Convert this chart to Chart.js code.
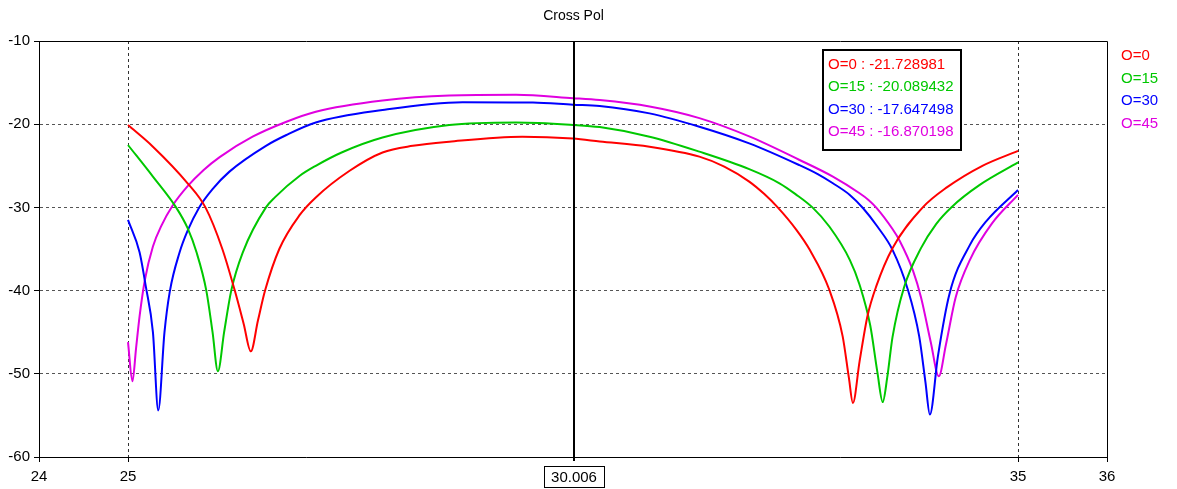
<!DOCTYPE html>
<html>
<head>
<meta charset="utf-8">
<script src="https://cdn.jsdelivr.net/npm/chart.js@4.4.1/dist/chart.umd.min.js"></script>
<style>
  html, body { margin: 0; padding: 0; background: #fff; }
  #wrap { width: 1177px; height: 489px; }
</style>
</head>
<body>
<div id="wrap"><canvas id="crossPolChart" width="1177" height="489"></canvas></div>
<script>
// series names and colours
const seriesNames = ['O=0', 'O=15', 'O=30', 'O=45'];
const seriesColors = ['#ff0000', '#00c800', '#0000ff', '#e000e0'];

// O=0
const freqO0 = [25.0, 25.28, 25.67, 25.87, 26.06, 26.2, 26.3, 26.38, 26.46, 26.54, 26.7, 26.93, 27.11, 27.49, 27.86, 28.2, 28.61, 29.43, 30.0, 30.3, 30.86, 31.42, 31.7, 31.98, 32.15, 32.3, 32.51, 32.66, 32.88, 33.03, 33.1, 33.145, 33.22, 33.31, 33.41, 33.59, 33.93, 34.2, 34.6, 35.0];
const cpO0 = [-20.1, -22.7, -27.1, -30.0, -35.0, -40.0, -44.0, -47.3, -43.6, -40.0, -35.0, -30.9, -28.8, -25.6, -23.4, -22.6, -22.1, -21.5, -21.73, -22.07, -22.7, -23.9, -25.1, -26.9, -28.4, -30.0, -32.7, -35.1, -39.9, -45.5, -50.5, -53.5, -48.5, -43.0, -39.4, -34.9, -30.0, -27.6, -25.0, -23.2];

// O=15
const freqO15 = [25.0, 25.28, 25.54, 25.67, 25.77, 25.88, 25.95, 26.01, 26.08, 26.16, 26.29, 26.55, 26.65, 26.93, 27.11, 27.4, 27.86, 28.61, 29.36, 30.0, 30.3, 30.86, 31.42, 31.98, 32.32, 32.5, 32.69, 32.88, 33.11, 33.22, 33.34, 33.42, 33.48, 33.53, 33.59, 33.72, 33.91, 34.08, 34.25, 34.57, 35.0];
const cpO15 = [-22.5, -26.3, -30.0, -32.5, -35.4, -40.0, -45.0, -49.7, -45.0, -40.0, -35.4, -30.0, -28.8, -26.2, -25.0, -23.4, -21.6, -20.1, -19.8, -20.09, -20.35, -21.5, -23.3, -25.4, -27.1, -28.4, -30.0, -32.3, -36.3, -39.3, -44.2, -49.8, -53.4, -50.5, -45.6, -39.6, -34.9, -32.0, -30.0, -27.3, -24.6];

// O=30
const freqO30 = [25.0, 25.13, 25.2, 25.28, 25.34, 25.41, 25.47, 25.58, 25.67, 25.8, 25.95, 26.14, 26.55, 26.78, 27.11, 27.86, 28.76, 29.55, 30.0, 30.3, 30.86, 31.42, 31.98, 32.54, 32.75, 32.92, 33.11, 33.26, 33.42, 33.59, 33.76, 33.89, 33.96, 34.01, 34.1, 34.23, 34.46, 34.64, 35.0];
const cpO30 = [-31.5, -35.4, -39.5, -45.0, -54.4, -45.0, -40.1, -35.4, -32.8, -30.0, -27.8, -25.7, -22.6, -21.3, -19.8, -18.3, -17.35, -17.4, -17.65, -17.8, -18.7, -20.3, -22.3, -24.9, -26.0, -27.1, -28.5, -30.1, -32.3, -35.1, -39.8, -45.5, -51.0, -54.9, -47.9, -40.4, -34.5, -31.7, -27.9];

// O=45
const freqO45 = [25.0, 25.05, 25.09, 25.13, 25.19, 25.28, 25.38, 25.5, 25.67, 25.85, 26.03, 26.4, 26.78, 27.11, 27.86, 28.61, 29.36, 30.0, 30.3, 30.86, 31.42, 31.98, 32.54, 32.92, 33.22, 33.32, 33.41, 33.59, 33.67, 33.82, 33.91, 34.02, 34.11, 34.19, 34.3, 34.46, 34.71, 35.0];
const cpO45 = [-46.2, -50.9, -47.0, -43.1, -38.7, -34.7, -32.1, -29.8, -27.45, -25.5, -23.95, -21.5, -19.7, -18.5, -17.16, -16.56, -16.47, -16.87, -17.1, -17.87, -19.27, -21.47, -24.27, -26.3, -28.3, -29.1, -30.05, -32.6, -34.0, -37.6, -40.8, -46.2, -50.3, -46.5, -40.8, -36.3, -31.9, -28.5];

// axis ticks and marker
const xTicks = [24, 25, 35, 36];
const xGridValues = [25, 35];
const cursorFreq = 30.006;
const cursorValues = [-21.728981, -20.089432, -17.647498, -16.870198];

const FONT = '"Liberation Sans", Arial, sans-serif';

const freqs = [freqO0, freqO15, freqO30, freqO45];
const values = [cpO0, cpO15, cpO30, cpO45];

const datasets = seriesNames.map((name, i) => ({
    label: name,
    data: freqs[i].map((f, k) => ({ x: f, y: values[i][k] })),
    borderColor: seriesColors[i],
    backgroundColor: seriesColors[i],
    borderWidth: 2,
    pointRadius: 0,
    fill: false,
    cubicInterpolationMode: 'monotone'
}));

// title, frame, cursor line and legends
const overlayPlugin = {
    id: 'overlay',
    afterDraw(chart) {
        const { ctx, chartArea: a, scales: { x } } = chart;
        ctx.save();

        // title
        ctx.fillStyle = '#000';
        ctx.font = '14px ' + FONT;
        ctx.textAlign = 'center';
        ctx.textBaseline = 'middle';
        ctx.fillText('Cross Pol', 573.5, 16);

        // top and right frame
        ctx.strokeStyle = '#000';
        ctx.lineWidth = 1;
        ctx.beginPath();
        ctx.moveTo(Math.round(a.left) + 0.5, Math.round(a.top) + 0.5);
        ctx.lineTo(Math.round(a.right) + 0.5, Math.round(a.top) + 0.5);
        ctx.lineTo(Math.round(a.right) + 0.5, Math.round(a.bottom) + 0.5);
        ctx.stroke();

        // cursor line
        const cx = Math.round(x.getPixelForValue(cursorFreq));
        ctx.lineWidth = 2;
        ctx.beginPath();
        ctx.moveTo(cx, a.top);
        ctx.lineTo(cx, a.bottom + 4);
        ctx.stroke();

        // cursor label
        const label = cursorFreq.toFixed(3);
        ctx.font = '15px ' + FONT;
        const w = ctx.measureText(label).width + 14;
        ctx.lineWidth = 1;
        ctx.fillStyle = '#fff';
        ctx.fillRect(cx - w / 2, 466, w, 22);
        ctx.strokeRect(Math.round(cx - w / 2) + 0.5, 466.5, Math.round(w), 21);
        ctx.fillStyle = '#000';
        ctx.fillText(label, cx, 477.5);

        // value box
        ctx.fillStyle = '#fff';
        ctx.fillRect(823, 50, 138, 100);
        ctx.lineWidth = 2;
        ctx.strokeStyle = '#000';
        ctx.strokeRect(823, 50, 138, 100);
        ctx.textAlign = 'left';
        seriesNames.forEach((name, i) => {
            ctx.fillStyle = seriesColors[i];
            ctx.fillText(name + ' : ' + cursorValues[i].toFixed(6), 828, 65 + i * 22.3);
        });

        // right legend
        seriesNames.forEach((name, i) => {
            ctx.fillStyle = seriesColors[i];
            ctx.fillText(name, 1121, 56 + i * 22.6);
        });

        ctx.restore();
    }
};

new Chart(document.getElementById('crossPolChart'), {
    type: 'line',
    data: { datasets },
    plugins: [overlayPlugin],
    options: {
        responsive: false,
        animation: false,
        events: [],
        layout: { padding: { top: 41, right: 70, left: 0, bottom: 0 } },
        plugins: {
            legend: { display: false },
            title: { display: false },
            tooltip: { enabled: false }
        },
        scales: {
            x: {
                type: 'linear',
                min: 24,
                max: 36,
                afterBuildTicks: s => { s.ticks = xTicks.map(v => ({ value: v })); },
                afterFit: s => { s.height = 32; },
                grid: {
                    color: c => (c.tick && xGridValues.includes(c.tick.value)) ? '#333' : 'rgba(0,0,0,0)',
                    lineWidth: 1,
                    tickLength: 5,
                    tickColor: '#000',
                    tickBorderDash: []
                },
                border: { display: true, color: '#000', width: 1, dash: [3, 3] },
                ticks: {
                    color: '#000',
                    font: { family: FONT, size: 15 },
                    padding: 6,
                    maxRotation: 0,
                    autoSkip: false,
                    callback: v => String(v)
                }
            },
            y: {
                min: -60,
                max: -10,
                afterFit: s => { s.width = 39; },
                grid: {
                    color: c => (c.tick && c.tick.value > -60 && c.tick.value < -10) ? '#555' : 'rgba(0,0,0,0)',
                    lineWidth: 1,
                    tickLength: 5,
                    tickColor: '#000',
                    tickBorderDash: []
                },
                border: { display: true, color: '#000', width: 1, dash: [3, 3] },
                ticks: {
                    stepSize: 10,
                    color: '#000',
                    font: { family: FONT, size: 15 },
                    padding: 4
                }
            }
        }
    }
});
</script>
</body>
</html>
